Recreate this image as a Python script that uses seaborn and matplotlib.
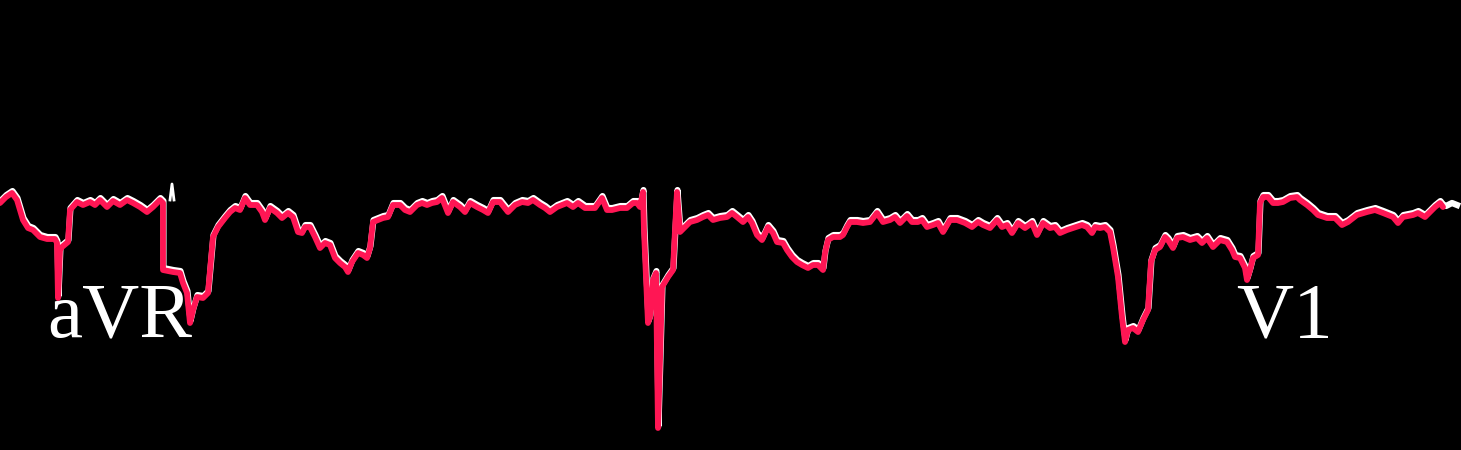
import numpy as np
import pandas as pd
import matplotlib
matplotlib.use("Agg")
import matplotlib.pyplot as plt
import matplotlib.transforms as mtransforms
import seaborn as sns

# ECG trace (x: sample position, y: screen-level, larger = lower on the strip)
trace_x = [0, 6, 12, 17, 23, 28, 33, 40, 47, 55, 57, 58, 60, 62, 68, 70, 77, 83, 90, 95,
           100, 107, 113, 120, 127, 133, 140, 147, 153, 160, 163, 163, 173, 180, 183, 187, 190, 193, 197, 203,
           208, 213, 218, 225, 230, 235, 240, 245, 250, 257, 262, 265, 270, 277, 282, 288, 293, 298, 302, 305,
           310, 315, 320, 325, 330, 335, 340, 345, 348, 352, 358, 363, 367, 370, 373, 378, 383, 388, 393, 400,
           405, 410, 417, 422, 427, 432, 437, 442, 448, 453, 460, 465, 470, 477, 483, 488, 493, 500, 508, 515,
           522, 528, 533, 540, 545, 550, 557, 567, 573, 578, 585, 595, 602, 607, 612, 620, 627, 633, 637, 640,
           643, 644, 648, 650, 653, 656, 658, 660, 662, 668, 673, 675, 677, 680, 685, 690, 697, 703, 708, 713,
           720, 727, 732, 737, 743, 748, 752, 757, 762, 768, 773, 777, 783, 787, 792, 797, 802, 808, 813, 818,
           823, 825, 828, 833, 840, 843, 847, 850, 857, 863, 870, 877, 883, 890, 895, 900, 907, 912, 918, 922,
           927, 933, 938, 943, 950, 957, 965, 972, 978, 983, 990, 997, 1002, 1007, 1012, 1018, 1025, 1032, 1037, 1043,
           1050, 1055, 1060, 1067, 1073, 1082, 1087, 1092, 1095, 1100, 1105, 1110, 1113, 1118, 1122, 1125, 1128, 1133, 1138, 1143,
           1148, 1151, 1155, 1160, 1165, 1168, 1173, 1177, 1183, 1190, 1197, 1202, 1207, 1213, 1220, 1227, 1232, 1235, 1240, 1245,
           1247, 1250, 1253, 1258, 1260, 1263, 1268, 1273, 1278, 1283, 1290, 1297, 1300, 1307, 1313, 1318, 1327, 1335, 1342, 1348,
           1357, 1367, 1375, 1383, 1393, 1398, 1403, 1413, 1418, 1425, 1430, 1435, 1440, 1443]
trace_y = [203, 197, 193, 200, 220, 228, 230, 237, 239, 239, 243, 298, 250, 247, 242, 210, 202, 205, 202, 205,
           200, 207, 201, 205, 200, 203, 207, 212, 207, 200, 203, 270, 272, 273, 283, 293, 323, 310, 297, 298,
           293, 237, 227, 218, 212, 208, 210, 198, 205, 205, 212, 220, 208, 213, 218, 213, 217, 232, 233, 227,
           227, 237, 248, 243, 245, 258, 263, 267, 272, 262, 253, 255, 258, 248, 222, 220, 218, 217, 205, 205,
           210, 212, 205, 203, 205, 203, 202, 198, 213, 202, 207, 212, 203, 207, 210, 213, 202, 202, 212, 205,
           202, 203, 200, 205, 208, 212, 207, 203, 207, 203, 208, 208, 198, 210, 210, 208, 208, 203, 203, 207,
           192, 230, 323, 317, 280, 273, 428, 360, 287, 277, 270, 230, 192, 232, 227, 222, 220, 217, 215, 220,
           218, 217, 213, 217, 222, 217, 223, 235, 240, 227, 233, 242, 243, 250, 257, 262, 265, 268, 265, 265,
           270, 253, 240, 237, 237, 235, 227, 222, 222, 223, 222, 213, 222, 220, 217, 223, 216, 222, 222, 220,
           227, 225, 223, 232, 220, 220, 223, 227, 222, 225, 228, 220, 227, 225, 233, 223, 228, 223, 235, 223,
           228, 227, 233, 230, 228, 225, 227, 233, 227, 228, 227, 232, 247, 277, 317, 342, 330, 328, 332, 320,
           310, 262, 250, 247, 237, 240, 248, 238, 237, 240, 238, 243, 238, 247, 240, 242, 250, 257, 258, 268,
           280, 270, 258, 255, 203, 197, 197, 203, 203, 202, 198, 197, 200, 205, 210, 215, 218, 218, 225, 222,
           215, 212, 210, 213, 217, 223, 217, 215, 213, 217, 212, 207, 203, 207]

# Parts of the original (white) recording that the digitised line does not cover
raw_tail_x = [1440, 1446, 1452, 1457]
raw_tail_y = [203, 206, 203, 205]
raw_spike_x = [170, 172, 174]
raw_spike_y = [200, 184, 200]

lead_labels = ["aVR", "V1"]
lead_label_x = [47, 1236]

W, H, DPI = 1461, 450, 100
fig = plt.figure(figsize=(W / DPI, H / DPI), dpi=DPI, facecolor="black")
ax = fig.add_axes([0, 0, 1, 1])
ax.set_facecolor("black")

df = pd.DataFrame({"x": trace_x, "y": trace_y})
white_shift = mtransforms.offset_copy(ax.transData, fig=fig, x=0.5, y=2, units="dots")

for lab, lx in zip(lead_labels, lead_label_x):
    ax.text(lx, 337, lab, color="white", fontsize=57, family="Liberation Serif",
            va="baseline", ha="left", zorder=1)

sns.lineplot(data=df, x="x", y="y", sort=False, estimator=None, color="white",
             lw=4.4, ax=ax, transform=white_shift, solid_joinstyle="round")
sns.lineplot(x=raw_tail_x, y=raw_tail_y, sort=False, estimator=None, color="white",
             lw=4.5, ax=ax)
sns.lineplot(x=raw_spike_x, y=raw_spike_y, sort=False, estimator=None, color="white",
             lw=2.0, ax=ax)

sns.lineplot(data=df, x="x", y="y", sort=False, estimator=None, color="#ff1654",
             lw=4.2, ax=ax, solid_joinstyle="round", solid_capstyle="round")

ax.set_xlim(0, W)
ax.set_ylim(H, 0)
ax.set_axis_off()

fig.savefig("out.png", dpi=DPI, facecolor="black")
